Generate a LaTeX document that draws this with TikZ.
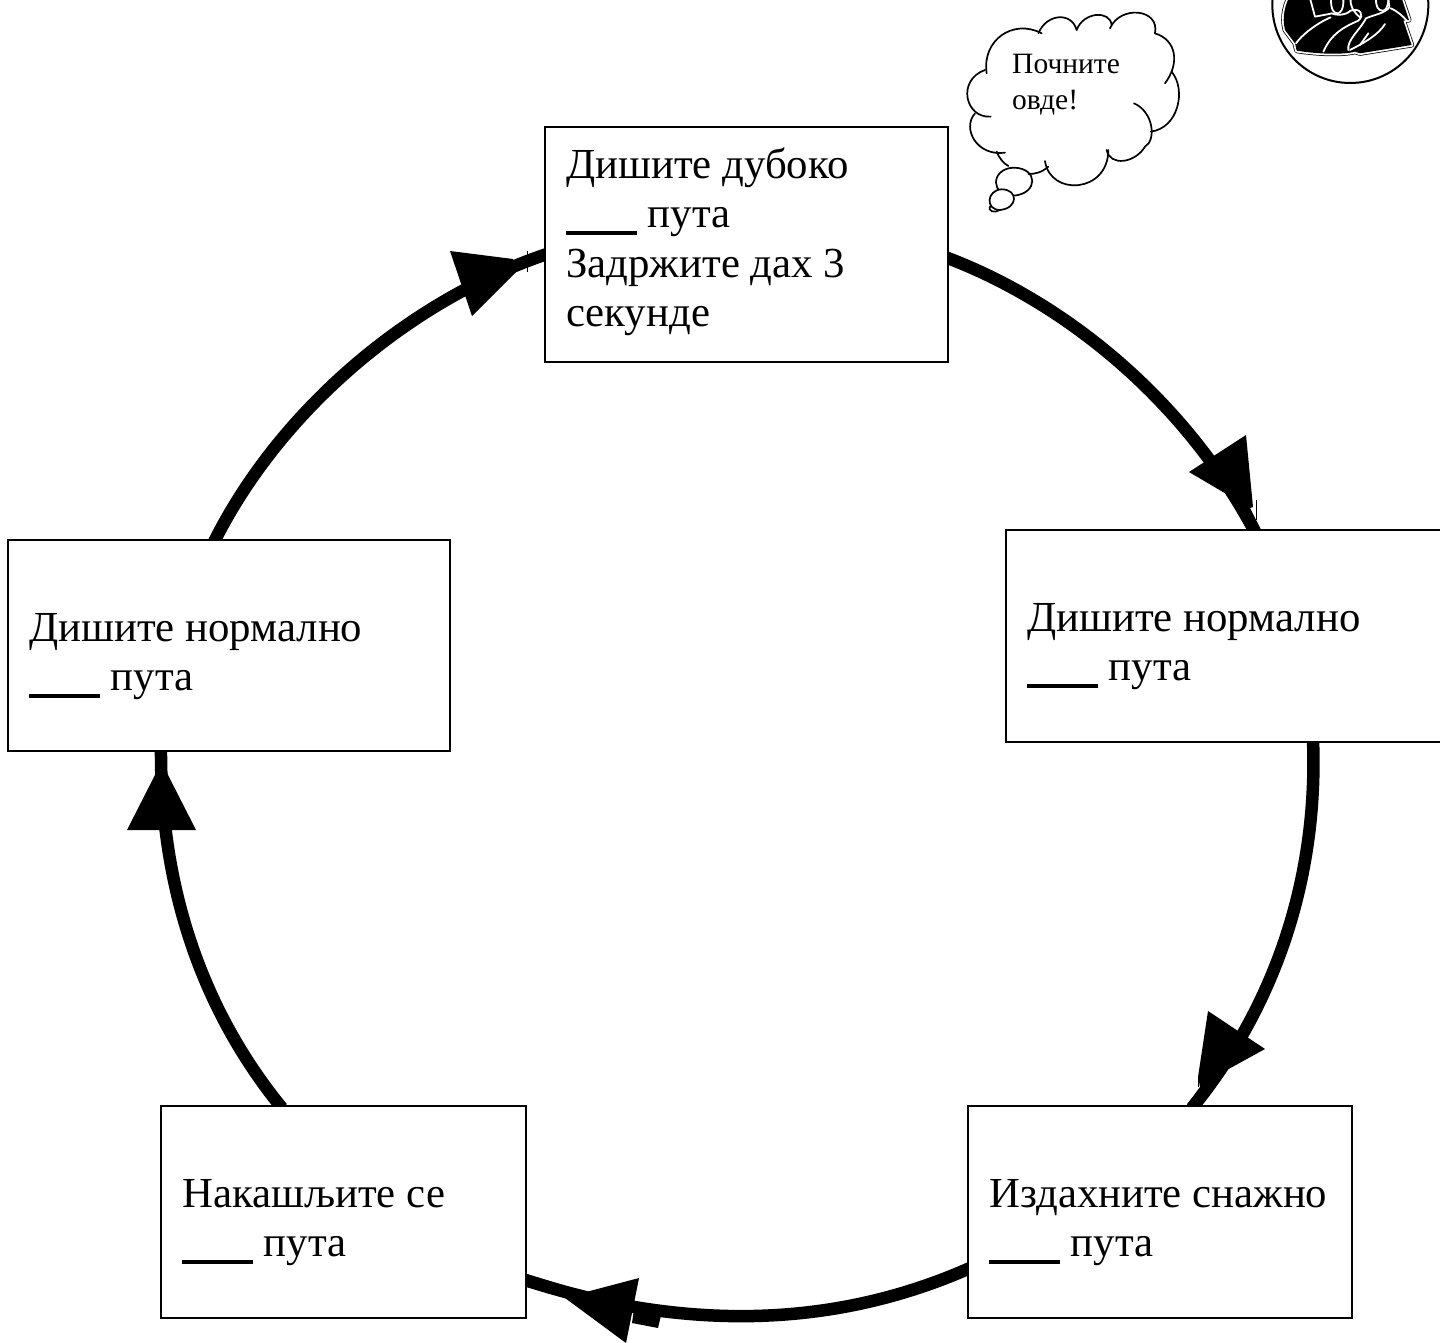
\documentclass[tikz,border=0pt]{standalone}
\usepackage{fontspec}
\setmainfont{Liberation Serif}
\tikzset{
  stepbox/.style={draw=black,line width=2pt,fill=white,anchor=north west,inner sep=0pt,outer sep=0pt},
  flow/.style={draw=black,line width=12.5pt},
  headfill/.style={fill=black,draw=none},
  cloudline/.style={draw=black,line width=1.7pt,line cap=round},
  tick/.style={draw=black,line width=.8pt},
  steptext/.style={anchor=north west,align=left,inner sep=0pt,font=\fontsize{42.8}{49.5}\selectfont},
  smalltext/.style={anchor=north west,align=left,inner sep=0pt,font=\fontsize{29.5}{36}\selectfont},
  halo/.style={white,line width=1.8pt,line cap=round,line join=round}
}
\newcommand{\blank}{\rule[-7pt]{71pt}{3.5pt}}
\newcommand{\massoutline}{(95,-20) .. controls (75,10) and (65,50) .. (75,90) -- (105,130) -- (110,152) .. controls (170,162) and (250,165) .. (285,155) -- (300,160) -- (455,135) -- (430,62) -- (447,60) -- (420,-20) -- cycle}
\begin{document}
\begin{tikzpicture}[x=1pt,y=-1pt]
\useasboundingbox (0,0) rectangle (1440,1343);
% connectors
\coordinate (a1) at (945,257);
\coordinate (a2) at (1255,532);
\coordinate (b1) at (1313,740);
\coordinate (b2) at (1192,1108);
\coordinate (c1) at (970,1268);
\coordinate (c2) at (525,1280);
\coordinate (d1) at (282,1108);
\coordinate (d2) at (161,748);
\coordinate (e1) at (214,542);
\coordinate (e2) at (547,254);
\draw[flow] (a1) .. controls (1060,300) and (1182,395) .. (a2);
\draw[flow] (b1) .. controls (1318,870) and (1280,1000) .. (b2);
\draw[flow] (c1) .. controls (830,1330) and (680,1330) .. (c2);
\draw[flow] (d1) .. controls (210,1020) and (160,900) .. (d2);
\draw[flow] (e1) .. controls (280,410) and (410,300) .. (e2);
% arrowheads
\fill[headfill] (1246,435) -- (1189,472) -- (1228,495) -- (1248,530) -- (1261,530) -- (1250,508) -- (1253,507) -- cycle;
\fill[headfill] (1208,1011) -- (1265,1049) -- (1225,1071) -- (1200,1106) -- (1186,1106) -- (1200,1087) -- (1198,1077) -- cycle;
\fill[headfill] (639,1278) -- (626,1343) -- (565,1298) -- (527,1287) -- (527,1274) -- (586,1292) -- cycle;
\fill[headfill] (635,1302) -- (663,1307) -- (658,1328) -- (632,1323) -- cycle;
\fill[headfill] (127,830) -- (196,830) -- (167,773) -- (156,773) -- cycle;
\fill[headfill] (450,251) -- (513,259) -- (516,272) -- (472,316) -- cycle;
\draw[tick] (527,251) -- (527,272);
\draw[tick] (1256,500) -- (1256,520);
\draw[tick] (1198,1077) -- (1198,1087);
% boxes
\node[stepbox,minimum width=403pt,minimum height=235pt] (top) at (545,127) {};
\node[steptext] (toptext) at (566,147.5) {Дишите дубоко\\\blank{} пута\\Задржите дах 3\\секунде};
\node[stepbox,minimum width=436pt,minimum height=212pt] (right) at (1006,530) {};
\node[steptext] (righttext) at (1027,603) {Дишите нормално\\\blank{} пута};
\node[stepbox,minimum width=442pt,minimum height=211pt] (left) at (8,540) {};
\node[steptext] (lefttext) at (29,613) {Дишите нормално\\\blank{} пута};
\node[stepbox,minimum width=384pt,minimum height=212pt] (br) at (968,1106) {};
\node[steptext] (brtext) at (989,1179) {Издахните снажно\\\blank{} пута};
\node[stepbox,minimum width=365pt,minimum height=212pt] (bl) at (161,1106) {};
\node[steptext] (bltext) at (182,1179) {Накашљите се\\\blank{} пута};
% thought cloud (coordinates of a 3x crop)
\begin{scope}[shift={(940,0)},x=.3333pt,y=-.3333pt]
\draw[cloudline] (140,220) .. controls (125,120) and (220,55) .. (305,100);
\draw[cloudline] (295,100) .. controls (320,40) and (395,35) .. (410,90);
\draw[cloudline] (410,90) .. controls (430,35) and (510,30) .. (515,75);
\draw[cloudline] (510,85) .. controls (540,15) and (660,25) .. (645,100);
\draw[cloudline] (645,100) .. controls (710,120) and (720,190) .. (675,250);
\draw[cloudline] (695,215) .. controls (740,270) and (715,385) .. (632,395);
\draw[cloudline] (582,310) .. controls (640,335) and (650,420) .. (615,440) .. controls (585,490) and (510,500) .. (500,450);
\draw[cloudline] (505,450) .. controls (505,580) and (330,590) .. (315,483);
\draw[cloudline] (325,500) .. controls (305,518) and (285,522) .. (265,522);
\draw[cloudline] (205,498) .. controls (190,490) and (178,475) .. (170,455);
\draw[cloudline] (195,458) .. controls (110,470) and (65,385) .. (105,340);
\draw[cloudline] (152,350) .. controls (75,355) and (50,240) .. (135,210);
\draw[cloudline] (222,503) .. controls (150,505) and (150,590) .. (222,587) .. controls (295,580) and (295,505) .. (222,503);
\draw[cloudline,fill=white] (185,568) .. controls (140,570) and (135,630) .. (180,630) .. controls (235,625) and (235,568) .. (185,568);
\draw[cloudline] (152,617) .. controls (140,635) and (165,640) .. (180,630);
\end{scope}
\node[smalltext] (cloudtext) at (1012,54) {Почните\\овде!};
% emblem (coordinates of a 3x crop)
\begin{scope}[shift={(1260,0)},x=.3333pt,y=-.3333pt]
\draw[line width=2pt] (271,15) circle (234);
\draw[line width=5pt,black,line join=round] \massoutline;
\draw[line width=3.5pt,white,line join=round] \massoutline;
\fill \massoutline;
\begin{scope}[every path/.style={halo}]
\draw (150,-5) -- (165,50) .. controls (190,45) and (210,42) .. (215,40) .. controls (240,50) and (265,40) .. (272,32) .. controls (300,22) and (315,45) .. (295,62) .. controls (250,82) and (215,100) .. (190,155);
\draw (108,130) .. controls (125,105) and (170,70) .. (212,52);
\draw (265,150) .. controls (260,120) and (300,90) .. (318,55) .. controls (340,45) and (375,40) .. (388,22) -- (385,-5);
\draw (300,52) .. controls (280,35) and (270,20) .. (272,-5);
\draw (270,150) .. controls (310,130) and (355,105) .. (375,72);
\draw (300,135) -- (325,100);
\draw (392,25) .. controls (415,35) and (430,50) .. (440,62);
\draw (250,-5) .. controls (252,30) and (240,40) .. (232,40) .. controls (222,40) and (212,30) .. (213,-5);
\draw (385,-5) .. controls (385,25) and (375,32) .. (367,32) .. controls (355,32) and (347,20) .. (348,-5);
\end{scope}
\end{scope}
\end{tikzpicture}
\end{document}
